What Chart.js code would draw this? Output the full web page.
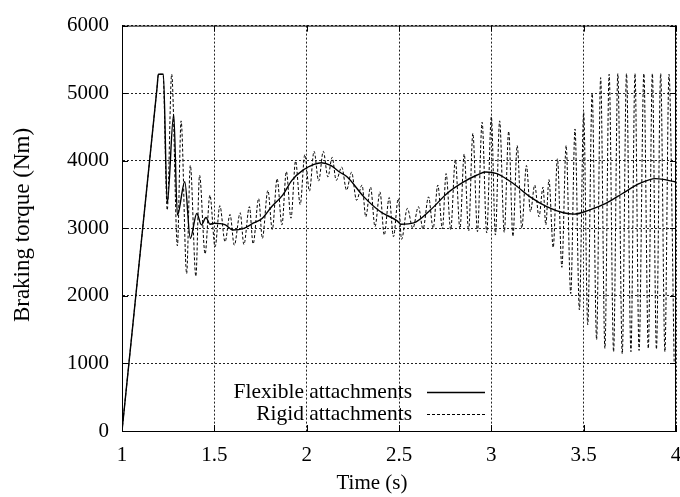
<!DOCTYPE html>
<html>
<head>
<meta charset="utf-8">
<script src="https://cdn.jsdelivr.net/npm/chart.js@4/dist/chart.umd.min.js"></script>
<style>
  html, body { margin: 0; padding: 0; background: #fff; }
  #wrap { width: 680px; height: 497px; }
</style>
</head>
<body>
<div id="wrap"><canvas id="myChart"></canvas></div>
<script>
// data
var flexTime = [1.0, 1.19, 1.197, 1.224, 1.245, 1.28, 1.30, 1.34, 1.37, 1.405, 1.43, 1.455, 1.476, 1.50, 1.53, 1.56, 1.60,
    1.66, 1.71, 1.76, 1.81, 1.87, 1.92, 1.98, 2.04, 2.08, 2.13, 2.18, 2.22, 2.31, 2.40, 2.49, 2.51, 2.58, 2.67,
    2.76, 2.85, 2.92, 2.97, 3.03, 3.12, 3.21, 3.30, 3.39, 3.45, 3.53, 3.62, 3.71, 3.80, 3.89, 4.0];
var flexTorque = [0, 5090, 5280, 5280, 3370, 4690, 3195, 3690, 2850, 3220, 3050, 3160, 3060, 3075, 3070, 3050, 2975,
    3000, 3075, 3150, 3320, 3490, 3710, 3860, 3945, 3970, 3930, 3830, 3760, 3465, 3245, 3110, 3060, 3080, 3270,
    3515, 3686, 3785, 3833, 3810, 3660, 3465, 3320, 3230, 3210, 3270, 3370, 3515, 3660, 3735, 3686];

var rigidTime = [1.0, 1.19, 1.197, 1.222, 1.245, 1.269, 1.30, 1.32, 1.35, 1.37, 1.40, 1.42, 1.45, 1.476, 1.504, 1.53,
    1.558, 1.585, 1.608, 1.64, 1.66, 1.69, 1.71, 1.74, 1.76, 1.79, 1.814, 1.84, 1.866, 1.89, 1.915, 1.94, 1.965,
    1.99, 2.015, 2.04, 2.065, 2.09, 2.115, 2.138, 2.16, 2.19, 2.216, 2.243, 2.27, 2.30, 2.32, 2.346, 2.37, 2.397,
    2.42, 2.447, 2.47, 2.496, 2.514, 2.545, 2.575, 2.605, 2.63, 2.66, 2.685, 2.71, 2.735, 2.755, 2.78, 2.805, 2.83,
    2.853, 2.877, 2.90, 2.925, 2.95, 2.975, 3.00, 3.022, 3.045, 3.07, 3.094, 3.117, 3.14, 3.165, 3.19, 3.212, 3.235,
    3.258, 3.28, 3.295, 3.312, 3.335, 3.358, 3.382, 3.405, 3.43, 3.453, 3.477, 3.50, 3.522, 3.546, 3.57, 3.592,
    3.615, 3.638, 3.662, 3.685, 3.709, 3.732, 3.756, 3.778, 3.80, 3.826, 3.85, 3.872, 3.894, 3.917, 3.94, 3.962, 3.99];
var rigidTorque = [0, 5090, 5280, 5280, 3270, 5280, 2740, 4590, 2330, 3930, 2290, 3785, 2620, 3490, 2725, 3335,
    2800, 3205, 2750, 3230, 2760, 3320, 2770, 3440, 2850, 3560, 2980, 3735, 3050, 3840, 3150, 3995, 3350,
    4090, 3550, 4140, 3700, 4140, 3760, 4050, 3710, 3905, 3565, 3830, 3415, 3640, 3170, 3610, 3025, 3540,
    2900, 3455, 2876, 3440, 2837, 3295, 3000, 3320, 2990, 3465, 3000, 3640, 2990, 3810, 2980, 4015, 2990,
    4100, 2960, 4405, 2950, 4570, 2930, 4650, 2900, 4590, 2940, 4435, 2880, 4225, 3000, 3930, 3245, 3640,
    3170, 3610, 3050, 3720, 2715, 4030, 2423, 4225, 2034, 4470, 1791, 4715, 1572, 4995, 1353, 5230,
    1222, 5280, 1173, 5290, 1143, 5290, 1173, 5290, 1192, 5290, 1222, 5290, 1210, 5290, 1173, 5280, 1010];

var seriesNames = ["Flexible attachments", "Rigid attachments"];
var xTitle = "Time (s)";
var yTitle = "Braking torque (Nm)";

var serif = "'Liberation Serif', 'Times New Roman', serif";

function toPoints(xs, ys) {
    var pts = [];
    for (var i = 0; i < xs.length; i++) pts.push({ x: xs[i], y: ys[i] });
    return pts;
}

// frame, axis titles and gnuplot-style legend
var extras = {
    id: "extras",
    afterDraw: function (chart) {
        var ctx = chart.ctx, a = chart.chartArea;
        ctx.save();
        ctx.strokeStyle = "#000";
        ctx.lineWidth = 1;
        ctx.strokeRect(a.left + 0.5, a.top + 0.5, a.right - a.left - 1, a.bottom - a.top);

        // little inward ticks like gnuplot
        var xs = chart.scales.x, ys = chart.scales.y;
        ctx.beginPath();
        xs.ticks.forEach(function (t) {
            var px = Math.round(xs.getPixelForValue(t.value)) + 0.5;
            ctx.moveTo(px, a.bottom); ctx.lineTo(px, a.bottom - 6);
            ctx.moveTo(px, a.top); ctx.lineTo(px, a.top + 6);
        });
        ys.ticks.forEach(function (t) {
            var py = Math.round(ys.getPixelForValue(t.value)) + 0.5;
            ctx.moveTo(a.left, py); ctx.lineTo(a.left + 6, py);
            ctx.moveTo(a.right, py); ctx.lineTo(a.right - 6, py);
        });
        ctx.stroke();

        ctx.fillStyle = "#000";
        ctx.font = "21px " + serif;
        ctx.textAlign = "center";
        ctx.textBaseline = "middle";
        ctx.fillText(xTitle, 372, 483);

        ctx.save();
        ctx.translate(23, 225);
        ctx.rotate(-Math.PI / 2);
        ctx.font = "23px " + serif;
        ctx.fillText(yTitle, 0, 0);
        ctx.restore();

        // legend
        ctx.font = "21.5px " + serif;
        ctx.textAlign = "right";
        var rows = [392, 414];
        chart.data.datasets.forEach(function (ds, i) {
            ctx.fillStyle = "#000";
            ctx.fillText(ds.label, 412, rows[i]);
            ctx.beginPath();
            ctx.setLineDash(ds.borderDash || []);
            ctx.lineWidth = ds.borderWidth;
            ctx.moveTo(427, rows[i] + 0.5);
            ctx.lineTo(485, rows[i] + 0.5);
            ctx.stroke();
        });
        ctx.restore();
    }
};

var ctx = document.getElementById("myChart").getContext("2d");
var myChart = new Chart(ctx, {
    type: "line",
    data: {
        datasets: [{
            label: seriesNames[0],
            data: toPoints(flexTime, flexTorque),
            borderColor: "#000",
            borderWidth: 1.4,
            pointRadius: 0,
            cubicInterpolationMode: "monotone",
            fill: false
        }, {
            label: seriesNames[1],
            data: toPoints(rigidTime, rigidTorque),
            borderColor: "#000",
            borderWidth: 1,
            borderDash: [3, 2],
            pointRadius: 0,
            cubicInterpolationMode: "monotone",
            fill: false
        }]
    },
    options: {
        responsive: true,
        maintainAspectRatio: false,
        animation: false,
        layout: { padding: { top: 20, right: 4, left: 0, bottom: 0 } },
        plugins: {
            legend: { display: false },
            tooltip: { enabled: false }
        },
        scales: {
            x: {
                type: "linear",
                min: 1,
                max: 4,
                ticks: {
                    stepSize: 0.5,
                    color: "#000",
                    font: { family: serif, size: 21 },
                    padding: 12,
                    maxRotation: 0,
                    callback: function (v) { return String(v); }
                },
                grid: { color: "#222", drawTicks: false },
                border: { display: true, color: "#000", dash: [2, 2] },
                afterFit: function (scale) {
                    scale.height = 66;
                    scale.paddingLeft = 0;
                    scale.paddingRight = 0;
                }
            },
            y: {
                min: 0,
                max: 6000,
                ticks: {
                    stepSize: 1000,
                    color: "#000",
                    font: { family: serif, size: 21 },
                    padding: 13,
                    callback: function (v) { return String(v); }
                },
                grid: { color: "#222", drawTicks: false },
                border: { display: true, color: "#000", dash: [2, 2] },
                afterFit: function (scale) { scale.width = 122; }
            }
        }
    },
    plugins: [extras]
});
</script>
</body>
</html>
